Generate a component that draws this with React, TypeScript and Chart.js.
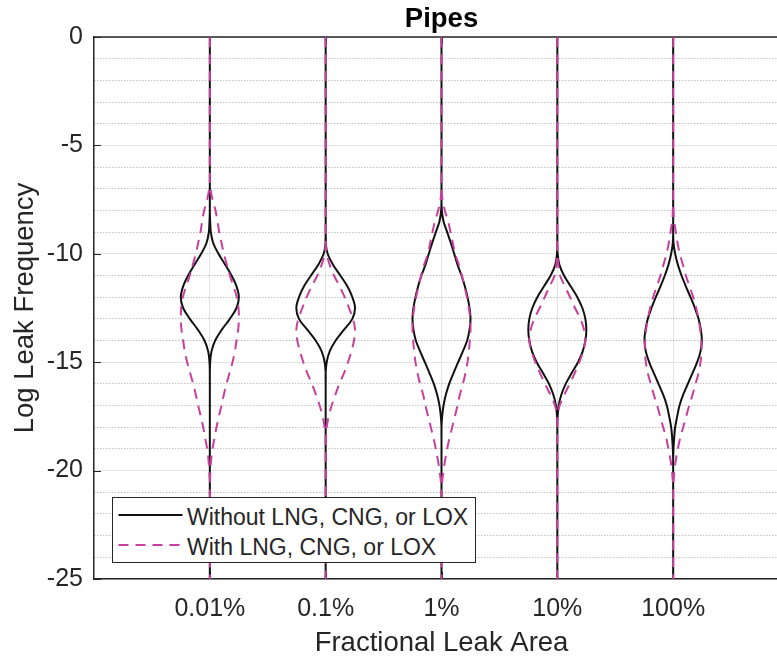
import React, { useEffect, useRef } from 'react';
import { Chart, registerables } from 'chart.js';

Chart.register(...registerables);

// ---------- data ----------
const categories = ['0.01%', '0.1%', '1%', '10%', '100%'];
const yTicks = [0, -5, -10, -15, -20, -25];
const yMinorTicks = [-1, -2, -3, -4, -6, -7, -8, -9, -11, -12, -13, -14, -16, -17, -18, -19, -21, -22, -23, -24];
const Y_TOP = 0;
const Y_BOTTOM = -25;

const seriesLabels = ['Without LNG, CNG, or LOX', 'With LNG, CNG, or LOX'];

// log-frequency levels at which the violin density (half-width) was read
const yLevels = [
  -6.5, -7, -7.5, -8, -8.5, -9, -9.5, -10, -10.5, -11, -11.5, -12, -12.5, -13, -13.5,
  -14, -14.5, -15, -15.5, -16, -16.5, -17, -17.5, -18, -18.5, -19, -19.5, -20, -20.5, -21,
];

// relative density (violin half-width) – without LNG, CNG, or LOX
const without001 = [0, 0, 0, 0, 0.01, 0.03, 0.10, 0.26, 0.46, 0.65, 0.80, 0.87, 0.80, 0.60, 0.36, 0.16, 0.05, 0.01, 0, 0, 0, 0, 0, 0, 0, 0, 0, 0, 0, 0];
const without01 = [0, 0, 0, 0, 0, 0, 0, 0.06, 0.22, 0.44, 0.65, 0.80, 0.88, 0.80, 0.55, 0.30, 0.12, 0.03, 0, 0, 0, 0, 0, 0, 0, 0, 0, 0, 0, 0];
const without1 = [0, 0, 0, 0.01, 0.06, 0.17, 0.28, 0.38, 0.48, 0.60, 0.70, 0.78, 0.84, 0.87, 0.84, 0.77, 0.64, 0.50, 0.36, 0.23, 0.13, 0.06, 0.02, 0, 0, 0, 0, 0, 0, 0];
const without10 = [0, 0, 0, 0, 0, 0, 0, 0.01, 0.06, 0.20, 0.40, 0.60, 0.75, 0.84, 0.87, 0.84, 0.76, 0.62, 0.43, 0.25, 0.12, 0.04, 0.01, 0, 0, 0, 0, 0, 0, 0];
const without100 = [0, 0, 0, 0, 0, 0, 0.01, 0.06, 0.14, 0.25, 0.38, 0.52, 0.65, 0.76, 0.83, 0.86, 0.82, 0.72, 0.58, 0.44, 0.30, 0.19, 0.12, 0.06, 0.03, 0.01, 0, 0, 0, 0];

// relative density (violin half-width) – with LNG, CNG, or LOX
const with001 = [0, 0.02, 0.08, 0.17, 0.23, 0.28, 0.35, 0.42, 0.51, 0.60, 0.71, 0.81, 0.86, 0.87, 0.85, 0.80, 0.75, 0.68, 0.59, 0.50, 0.42, 0.35, 0.27, 0.20, 0.14, 0.08, 0.04, 0.02, 0, 0];
const with01 = [0, 0, 0, 0, 0, 0, 0, 0.03, 0.12, 0.25, 0.42, 0.57, 0.70, 0.82, 0.88, 0.85, 0.77, 0.67, 0.55, 0.41, 0.29, 0.18, 0.09, 0.03, 0, 0, 0, 0, 0, 0];
const with1 = [0, 0, 0.03, 0.10, 0.20, 0.27, 0.34, 0.41, 0.52, 0.61, 0.69, 0.76, 0.82, 0.86, 0.87, 0.85, 0.82, 0.78, 0.72, 0.64, 0.55, 0.48, 0.40, 0.32, 0.24, 0.17, 0.11, 0.06, 0.02, 0];
const with10 = [0, 0, 0, 0, 0, 0, 0, 0, 0.03, 0.08, 0.23, 0.38, 0.53, 0.69, 0.80, 0.84, 0.77, 0.66, 0.52, 0.37, 0.21, 0.07, 0.01, 0, 0, 0, 0, 0, 0, 0];
const with100 = [0, 0, 0, 0.01, 0.03, 0.08, 0.13, 0.20, 0.29, 0.38, 0.49, 0.60, 0.69, 0.76, 0.81, 0.84, 0.85, 0.82, 0.76, 0.67, 0.58, 0.48, 0.39, 0.30, 0.21, 0.14, 0.08, 0.04, 0.01, 0];

const withoutSeries = [without001, without01, without1, without10, without100];
const withSeries = [with001, with01, with1, with10, with100];

// ---------- styling ----------
const FONT = "'Liberation Sans', Arial, Helvetica, sans-serif";
const TEXT = '#262626';
const BLACK = '#111111';
const MAGENTA = '#C8409E';
const DASH = [10, 7];
const WIDTH_SCALE = 0.288; // category units per unit of relative density

type Pt = { x: number; y: number | null };

function violinPoints(series: number[][]): Pt[] {
  const pts: Pt[] = [];
  series.forEach((dens, i) => {
    const c = i + 1;
    // right half, then left half, each drawn from top to bottom
    for (const side of [1, -1]) {
      pts.push({ x: c, y: Y_TOP });
      yLevels.forEach((y, j) => pts.push({ x: c + side * dens[j] * WIDTH_SCALE, y }));
      pts.push({ x: c, y: Y_BOTTOM });
      pts.push({ x: c, y: null });
    }
  });
  return pts;
}

const boxPlugin = {
  id: 'matlabBox',
  beforeDatasetsDraw(chart: any) {
    const { ctx, chartArea, scales } = chart;
    const { left, right, top, bottom } = chartArea;
    ctx.save();
    ctx.strokeStyle = TEXT;
    ctx.lineWidth = 1.5;
    ctx.beginPath();
    ctx.moveTo(left, top);
    ctx.lineTo(right, top);
    ctx.stroke();
    ctx.lineWidth = 1;
    ctx.beginPath();
    yTicks.forEach((v) => {
      const py = Math.round(scales.y.getPixelForValue(v)) + 0.5;
      ctx.moveTo(left, py);
      ctx.lineTo(left + 7, py);
    });
    categories.forEach((_, i) => {
      const px = Math.round(scales.x.getPixelForValue(i + 1)) + 0.5;
      ctx.moveTo(px, bottom);
      ctx.lineTo(px, bottom - 7);
      ctx.moveTo(px, top);
      ctx.lineTo(px, top + 7);
    });
    ctx.stroke();
    ctx.restore();
  },
};

function ViolinChart() {
  const ref = useRef<HTMLCanvasElement | null>(null);

  useEffect(() => {
    if (!ref.current) return;
    const chart = new Chart(ref.current, {
      type: 'line',
      data: {
        datasets: [
          {
            label: seriesLabels[0],
            data: violinPoints(withoutSeries) as any,
            borderColor: BLACK,
            borderWidth: 2,
            pointRadius: 0,
            tension: 0.35,
            spanGaps: false,
            fill: false,
            order: 2,
          },
          {
            label: seriesLabels[1],
            data: violinPoints(withSeries) as any,
            borderColor: MAGENTA,
            borderWidth: 2,
            borderDash: DASH,
            pointRadius: 0,
            tension: 0.35,
            spanGaps: false,
            fill: false,
            order: 1,
          },
        ],
      },
      options: {
        animation: false,
        responsive: false,
        devicePixelRatio: 1,
        layout: { padding: { left: 0, right: 1, top: 0, bottom: 0 } },
        plugins: {
          legend: { display: false },
          tooltip: { enabled: false },
          title: {
            display: true,
            text: 'Pipes',
            fullSize: false,
            color: '#000000',
            font: { family: FONT, size: 27.5, weight: 'bold', lineHeight: 1 },
            padding: { top: 5.5, bottom: 4 },
          },
        },
        scales: {
          x: {
            type: 'linear',
            min: 0,
            max: categories.length + 1,
            afterBuildTicks: (scale: any) => {
              scale.ticks = categories.map((_, i) => ({ value: i + 1 }));
            },
            afterFit: (scale: any) => {
              scale.height = 80;
            },
            ticks: {
              callback: (v: any) => categories[Number(v) - 1] ?? '',
              color: TEXT,
              font: { family: FONT, size: 25 },
              padding: 15,
              maxRotation: 0,
              autoSkip: false,
            },
            grid: { color: 'rgba(38,38,38,0.13)', lineWidth: 1, drawTicks: false },
            border: { display: true, color: TEXT, width: 1.5 },
            title: {
              display: true,
              text: 'Fractional Leak Area',
              color: TEXT,
              font: { family: FONT, size: 27.5, lineHeight: 1 },
              padding: { top: 0, bottom: 2 },
            },
          },
          y: {
            type: 'linear',
            position: 'left',
            min: Y_BOTTOM,
            max: Y_TOP,
            afterBuildTicks: (scale: any) => {
              scale.ticks = yTicks.map((v) => ({ value: v }));
            },
            afterFit: (scale: any) => {
              scale.width = 94;
            },
            ticks: {
              callback: (v: any) => String(v),
              color: TEXT,
              font: { family: FONT, size: 25 },
              padding: 11,
            },
            grid: { color: 'rgba(38,38,38,0.13)', lineWidth: 1, drawTicks: false },
            border: { display: true, color: TEXT, width: 1.5 },
            title: {
              display: true,
              text: 'Log Leak Frequency',
              color: TEXT,
              font: { family: FONT, size: 27.5, lineHeight: 1.2 },
              padding: { top: 9, bottom: 0 },
            },
          },
          yMinor: {
            type: 'linear',
            position: 'left',
            min: Y_BOTTOM,
            max: Y_TOP,
            afterBuildTicks: (scale: any) => {
              scale.ticks = yMinorTicks.map((v) => ({ value: v }));
            },
            ticks: { display: false, autoSkip: false },
            afterFit: (scale: any) => {
              scale.width = 0;
            },
            grid: {
              drawTicks: false,
              lineWidth: 1,
              color: 'rgba(38,38,38,0.28)',
            },
            border: { display: false, dash: [1.5, 1.5] },
          },
        },
      } as any,
      plugins: [boxPlugin],
    });
    return () => chart.destroy();
  }, []);

  return <canvas ref={ref} width={790} height={659} style={{ display: 'block' }} />;
}

function Legend() {
  const rowText: React.CSSProperties = {
    position: 'absolute',
    left: 74.5,
    fontFamily: FONT,
    fontSize: 23,
    lineHeight: '25px',
    color: TEXT,
    whiteSpace: 'nowrap',
  };
  return (
    <div
      style={{
        position: 'absolute',
        left: 111.5,
        top: 497,
        width: 362,
        height: 64,
        border: `1px solid ${TEXT}`,
        background: '#ffffff',
      }}
    >
      <svg style={{ position: 'absolute', left: 0, top: 0 }} width={362} height={64}>
        <line x1={5.5} y1={17} x2={69.5} y2={17} stroke={BLACK} strokeWidth={2} />
        <line x1={5.5} y1={47} x2={69.5} y2={47} stroke={MAGENTA} strokeWidth={2} strokeDasharray={DASH.join(' ')} />
      </svg>
      <div style={{ ...rowText, top: 6.5 }}>{seriesLabels[0]}</div>
      <div style={{ ...rowText, top: 36.5 }}>{seriesLabels[1]}</div>
    </div>
  );
}

export default function App() {
  return (
    <div
      style={{
        position: 'fixed',
        left: 0,
        top: 0,
        width: 777,
        height: 659,
        overflow: 'hidden',
        background: '#ffffff',
      }}
    >
      <ViolinChart />
      <Legend />
    </div>
  );
}
